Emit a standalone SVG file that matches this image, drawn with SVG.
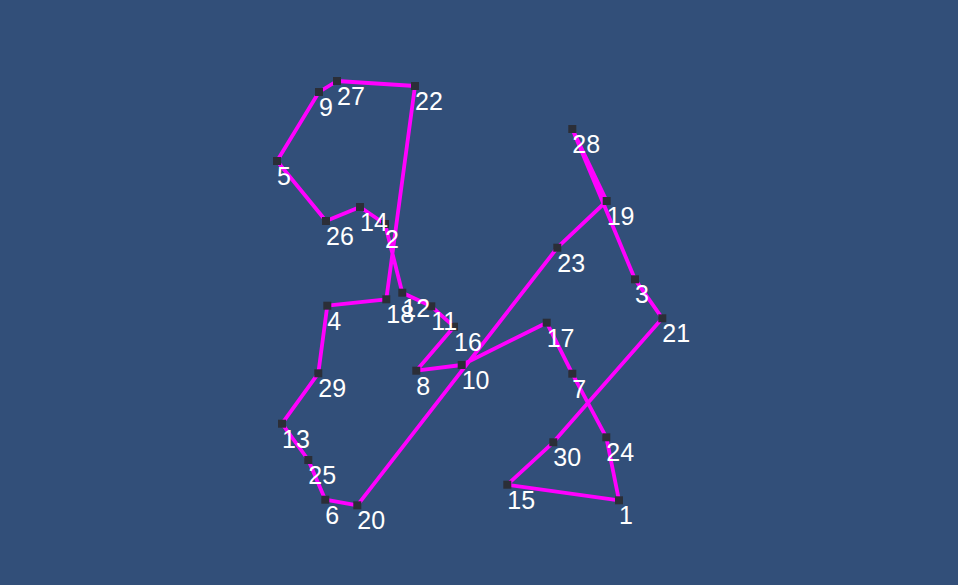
<svg xmlns="http://www.w3.org/2000/svg" width="958" height="585" viewBox="0 0 958 585">
<style>
.e{stroke:#ff00ff;stroke-width:3.8;fill:none;stroke-linecap:round;stroke-linejoin:round}
.n{fill:#2b2e37}
.t{fill:#ffffff;font-family:"Liberation Sans",Arial,sans-serif;font-size:25px}
</style>
<rect width="958" height="585" fill="#324f79"/>
<g id="connectors">
<polyline class="e" points="319,92 337,81 415,86 386.3,299.3 327.3,305.7 318.3,373.3 282,423.7 308.3,460 325.3,499.7 357.3,505.3 557.3,247.7 606.7,201 572.3,129 635,279.3 662.3,318.3 553.3,442.3 507.3,484.7 619,500.3 606.3,437.3 572.3,373.7 546.7,322.7 461.7,365 416.3,370.7 454,326.7 431.3,306.3 402.3,292.7 385,224 360,207 326,221 277,161 319,92"/>
</g>
<g id="nodes">
<g id="node-1"><rect class="n" x="615" y="496.3" width="8" height="8"/></g>
<g id="node-2"><rect class="n" x="381" y="220" width="8" height="8"/></g>
<g id="node-3"><rect class="n" x="631" y="275.3" width="8" height="8"/></g>
<g id="node-4"><rect class="n" x="323.3" y="301.7" width="8" height="8"/></g>
<g id="node-5"><rect class="n" x="273" y="157" width="8" height="8"/></g>
<g id="node-6"><rect class="n" x="321.3" y="495.7" width="8" height="8"/></g>
<g id="node-7"><rect class="n" x="568.3" y="369.7" width="8" height="8"/></g>
<g id="node-8"><rect class="n" x="412.3" y="366.7" width="8" height="8"/></g>
<g id="node-9"><rect class="n" x="315" y="88" width="8" height="8"/></g>
<g id="node-10"><rect class="n" x="457.7" y="361" width="8" height="8"/></g>
<g id="node-11"><rect class="n" x="427.3" y="302.3" width="8" height="8"/></g>
<g id="node-12"><rect class="n" x="398.3" y="288.7" width="8" height="8"/></g>
<g id="node-13"><rect class="n" x="278" y="419.7" width="8" height="8"/></g>
<g id="node-14"><rect class="n" x="356" y="203" width="8" height="8"/></g>
<g id="node-15"><rect class="n" x="503.3" y="480.7" width="8" height="8"/></g>
<g id="node-16"><rect class="n" x="450" y="322.7" width="8" height="8"/></g>
<g id="node-17"><rect class="n" x="542.7" y="318.7" width="8" height="8"/></g>
<g id="node-18"><rect class="n" x="382.3" y="295.3" width="8" height="8"/></g>
<g id="node-19"><rect class="n" x="602.7" y="197" width="8" height="8"/></g>
<g id="node-20"><rect class="n" x="353.3" y="501.3" width="8" height="8"/></g>
<g id="node-21"><rect class="n" x="658.3" y="314.3" width="8" height="8"/></g>
<g id="node-22"><rect class="n" x="411" y="82" width="8" height="8"/></g>
<g id="node-23"><rect class="n" x="553.3" y="243.7" width="8" height="8"/></g>
<g id="node-24"><rect class="n" x="602.3" y="433.3" width="8" height="8"/></g>
<g id="node-25"><rect class="n" x="304.3" y="456" width="8" height="8"/></g>
<g id="node-26"><rect class="n" x="322" y="217" width="8" height="8"/></g>
<g id="node-27"><rect class="n" x="333" y="77" width="8" height="8"/></g>
<g id="node-28"><rect class="n" x="568.3" y="125" width="8" height="8"/></g>
<g id="node-29"><rect class="n" x="314.3" y="369.3" width="8" height="8"/></g>
<g id="node-30"><rect class="n" x="549.3" y="438.3" width="8" height="8"/></g>
</g>
<g id="labels">
<text class="t" x="619" y="524.3">1</text>
<text class="t" x="385" y="248">2</text>
<text class="t" x="635" y="303.3">3</text>
<text class="t" x="327.3" y="329.7">4</text>
<text class="t" x="277" y="185">5</text>
<text class="t" x="325.3" y="523.7">6</text>
<text class="t" x="572.3" y="397.7">7</text>
<text class="t" x="416.3" y="394.7">8</text>
<text class="t" x="319" y="116">9</text>
<text class="t" x="461.7" y="389">10</text>
<text class="t" x="431.3" y="330.3">11</text>
<text class="t" x="402.3" y="316.7">12</text>
<text class="t" x="282" y="447.7">13</text>
<text class="t" x="360" y="231">14</text>
<text class="t" x="507.3" y="508.7">15</text>
<text class="t" x="454" y="350.7">16</text>
<text class="t" x="546.7" y="346.7">17</text>
<text class="t" x="386.3" y="323.3">18</text>
<text class="t" x="606.7" y="225">19</text>
<text class="t" x="357.3" y="529.3">20</text>
<text class="t" x="662.3" y="342.3">21</text>
<text class="t" x="415" y="110">22</text>
<text class="t" x="557.3" y="271.7">23</text>
<text class="t" x="606.3" y="461.3">24</text>
<text class="t" x="308.3" y="484">25</text>
<text class="t" x="326" y="245">26</text>
<text class="t" x="337" y="105">27</text>
<text class="t" x="572.3" y="153">28</text>
<text class="t" x="318.3" y="397.3">29</text>
<text class="t" x="553.3" y="466.3">30</text>
</g>
</svg>
